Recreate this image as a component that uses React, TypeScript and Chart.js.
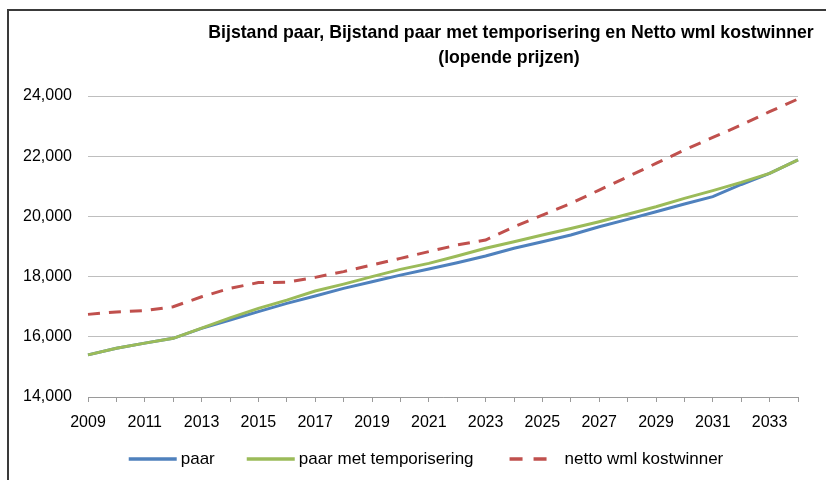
import { useEffect, useRef } from "react";
import { Chart, registerables } from "chart.js";

Chart.register(...registerables);

const years = [
  "2009", "2010", "2011", "2012", "2013", "2014", "2015", "2016", "2017",
  "2018", "2019", "2020", "2021", "2022", "2023", "2024", "2025", "2026",
  "2027", "2028", "2029", "2030", "2031", "2032", "2033", "2034",
];

const paar = [
  15400, 15620, 15790, 15950, 16280, 16560, 16835, 17110, 17355,
  17610, 17830, 18050, 18250, 18460, 18685, 18940, 19160, 19380,
  19655, 19900, 20155, 20410, 20655, 21060, 21430, 21880,
];

const paarMetTemporisering = [
  15400, 15620, 15790, 15950, 16290, 16630, 16945, 17220, 17520,
  17750, 18000, 18240, 18440, 18685, 18940, 19160, 19380, 19600,
  19825, 20070, 20320, 20600, 20855, 21130, 21430, 21880,
];

const nettoWmlKostwinner = [
  16745, 16825, 16870, 17000, 17330, 17610, 17800, 17810, 17975,
  18165, 18385, 18605, 18830, 19050, 19215, 19655, 20045, 20430,
  20875, 21315, 21760, 22205, 22625, 23035, 23480, 23900,
];

const seriesLabels = ["paar", "paar met temporisering", "netto wml kostwinner"];
const titleLines = [
  "Bijstand paar, Bijstand paar met temporisering en Netto wml kostwinner",
  "(lopende prijzen)",
];
const yMin = 14000;
const yMax = 24000;
const yStep = 2000;

const BLUE = "#4F81BD";
const GREEN = "#9BBB59";
const RED = "#C0504D";
const DASH = [12, 9];

const decorPlugin = {
  id: "decor",
  afterDraw(chart: any) {
    const ctx: CanvasRenderingContext2D = chart.ctx;
    ctx.save();
    // outer frame (top and left edges visible)
    ctx.strokeStyle = "#3a3a3a";
    ctx.lineWidth = 2;
    ctx.setLineDash([]);
    ctx.beginPath();
    ctx.moveTo(8, 490);
    ctx.lineTo(8, 10);
    ctx.lineTo(840, 10);
    ctx.stroke();

    // title
    ctx.fillStyle = "#000";
    ctx.font = 'bold 17.7px "Liberation Sans", Arial, sans-serif';
    ctx.textAlign = "center";
    ctx.textBaseline = "alphabetic";
    ctx.fillText(titleLines[0], 511, 38);
    ctx.fillText(titleLines[1], 509, 63);

    // legend
    ctx.font = '17px "Liberation Sans", Arial, sans-serif';
    ctx.textAlign = "left";
    ctx.textBaseline = "middle";
    const ly = 459;
    const items = chart.data.datasets.map((ds: any) => ({
      label: ds.label as string,
      color: ds.borderColor as string,
      dash: (ds.borderDash || []) as number[],
      width: ctx.measureText(ds.label).width,
    }));
    const gap = 32;
    const symW = (it: any) => (it.dash.length ? 59 : 52);
    let total = 0;
    items.forEach((it: any, i: number) => {
      total += symW(it) + it.width + (i < items.length - 1 ? gap : 0);
    });
    let x = 426 - total / 2;
    items.forEach((it: any) => {
      ctx.strokeStyle = it.color;
      ctx.lineWidth = 3.5;
      ctx.lineCap = "butt";
      ctx.beginPath();
      if (it.dash.length) {
        ctx.setLineDash([13, 11]);
        ctx.moveTo(x + 4, ly);
        ctx.lineTo(x + 41, ly);
      } else {
        ctx.setLineDash([]);
        ctx.moveTo(x, ly);
        ctx.lineTo(x + 48, ly);
      }
      ctx.stroke();
      ctx.setLineDash([]);
      ctx.fillStyle = "#000";
      ctx.fillText(it.label, x + symW(it), ly);
      x += symW(it) + it.width + gap;
    });
    ctx.restore();
  },
};

export default function App() {
  const canvasRef = useRef<HTMLCanvasElement | null>(null);

  useEffect(() => {
    const canvas = canvasRef.current;
    if (!canvas) return;
    const chart = new Chart(canvas, {
      type: "line",
      data: {
        labels: years,
        datasets: [
          {
            label: seriesLabels[0],
            data: paar,
            borderColor: BLUE,
            backgroundColor: BLUE,
            borderWidth: 3,
            pointRadius: 0,
            tension: 0,
            order: 2,
          },
          {
            label: seriesLabels[1],
            data: paarMetTemporisering,
            borderColor: GREEN,
            backgroundColor: GREEN,
            borderWidth: 3,
            pointRadius: 0,
            tension: 0,
            order: 1,
          },
          {
            label: seriesLabels[2],
            data: nettoWmlKostwinner,
            borderColor: RED,
            backgroundColor: RED,
            borderWidth: 3,
            borderDash: DASH,
            pointRadius: 0,
            tension: 0,
            order: 0,
          },
        ],
      },
      options: {
        responsive: false,
        animation: false,
        devicePixelRatio: 1,
        layout: { padding: { top: 96, right: 28, left: 0, bottom: 0 } },
        plugins: {
          legend: { display: false },
          title: { display: false },
          tooltip: { enabled: false },
        },
        scales: {
          x: {
            type: "category",
            offset: false,
            afterFit: (scale: any) => {
              scale.height = 83;
            },
            grid: {
              display: true,
              drawOnChartArea: false,
              drawTicks: true,
              tickLength: 5,
              color: "#9a9a9a",
            },
            border: { display: true, color: "#9a9a9a", width: 1 },
            ticks: {
              autoSkip: false,
              maxRotation: 0,
              minRotation: 0,
              padding: 11,
              color: "#000",
              font: { family: '"Liberation Sans", Arial, sans-serif', size: 16 },
              callback: (_v: any, idx: number) => (idx % 2 === 0 ? years[idx] : ""),
            },
          },
          y: {
            min: yMin,
            max: yMax,
            afterFit: (scale: any) => {
              scale.width = 88;
            },
            grid: { color: "#bebebe", drawTicks: false, lineWidth: 1 },
            border: { display: false },
            ticks: {
              stepSize: yStep,
              padding: 16,
              color: "#000",
              font: { family: '"Liberation Sans", Arial, sans-serif', size: 16 },
              callback: (v: any) => Number(v).toLocaleString("en-US"),
            },
          },
        },
      },
      plugins: [decorPlugin],
    });
    return () => chart.destroy();
  }, []);

  return (
    <div style={{ position: "fixed", left: 0, top: 0, width: 826, height: 480, background: "#fff" }}>
      <canvas ref={canvasRef} width={826} height={480} style={{ display: "block" }} />
    </div>
  );
}
